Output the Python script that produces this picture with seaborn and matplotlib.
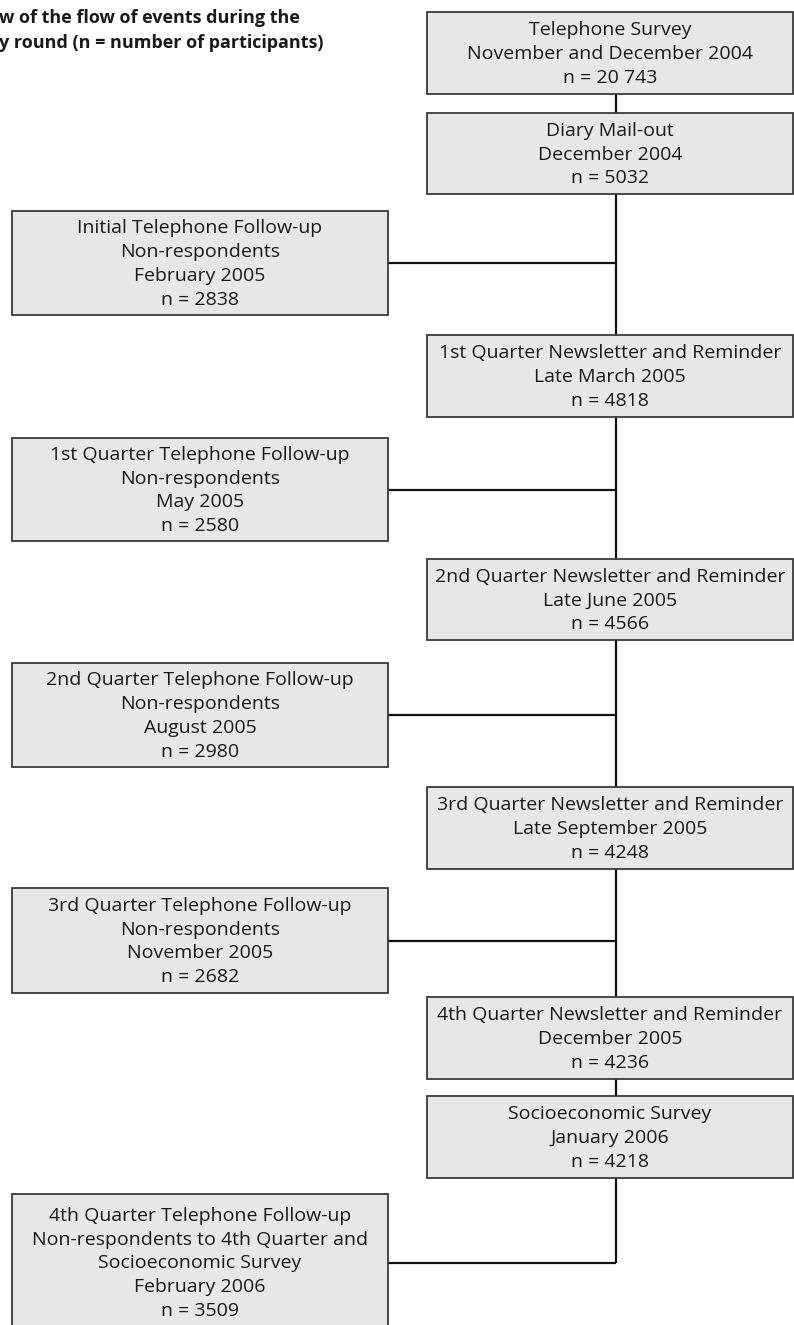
import matplotlib
matplotlib.use("Agg")
import matplotlib.pyplot as plt
from matplotlib.patches import Rectangle
import seaborn as sns

# ---- data ----
title_lines = ["w of the flow of events during the",
               "y round (n = number of participants)"]

main_steps = ["Telephone Survey", "Diary Mail-out",
              "1st Quarter Newsletter and Reminder",
              "2nd Quarter Newsletter and Reminder",
              "3rd Quarter Newsletter and Reminder",
              "4th Quarter Newsletter and Reminder",
              "Socioeconomic Survey"]
main_dates = ["November and December 2004", "December 2004", "Late March 2005",
              "Late June 2005", "Late September 2005", "December 2005", "January 2006"]
main_n = ["20 743", "5032", "4818", "4566", "4248", "4236", "4218"]

follow_steps = ["Initial Telephone Follow-up", "1st Quarter Telephone Follow-up",
                "2nd Quarter Telephone Follow-up", "3rd Quarter Telephone Follow-up",
                "4th Quarter Telephone Follow-up"]
follow_groups = ["Non-respondents", "Non-respondents", "Non-respondents", "Non-respondents",
                 "Non-respondents to 4th Quarter and\nSocioeconomic Survey"]
follow_dates = ["February 2005", "May 2005", "August 2005", "November 2005", "February 2006"]
follow_n = ["2838", "2580", "2980", "2682", "3509"]

# ---- layout (pixel units) ----
main_box = [(12, 94), (113, 194), (335, 417), (559, 640), (787, 869), (997, 1079), (1096, 1178)]
follow_box = [(211, 315), (438, 541), (663, 767), (888, 993), (1194, 1331)]
RX0, RX1 = 427, 793
LX0, LX1 = 12, 388
SPINE_X = 616

sns.set_theme(style="white")
plt.rcParams['font.family'] = ['Open Sans', 'DejaVu Sans']

fig = plt.figure(figsize=(7.94, 13.25), dpi=100)
ax = fig.add_axes([0, 0, 1, 1])
ax.set_xlim(0, 794)
ax.set_ylim(1325, 0)
ax.axis("off")

FILL = "#e6e7e8"
EDGE = "#3a3a3a"
FS = 14
LS = 1.42

# spine line
ax.plot([SPINE_X, SPINE_X], [main_box[0][1], (follow_box[-1][0] + follow_box[-1][1]) / 2],
        color="#111111", lw=1.6, zorder=1, solid_capstyle="butt")

def box(x0, x1, y0, y1, text):
    ax.add_patch(Rectangle((x0, y0), x1 - x0, y1 - y0, facecolor=FILL,
                           edgecolor=EDGE, lw=1.3, zorder=2))
    ax.text((x0 + x1) / 2, (y0 + y1) / 2 + 1, text, ha="center", va="center",
            fontsize=FS, linespacing=LS, color="#1a1a1a", zorder=3)

for (y0, y1), s, d, n in zip(main_box, main_steps, main_dates, main_n):
    box(RX0, RX1, y0, y1, f"{s}\n{d}\nn = {n}")

for (y0, y1), s, g, d, n in zip(follow_box, follow_steps, follow_groups, follow_dates, follow_n):
    box(LX0, LX1, y0, y1, f"{s}\n{g}\n{d}\nn = {n}")
    yc = (y0 + y1) / 2
    ax.plot([LX1, SPINE_X], [yc, yc], color="#111111", lw=1.6, zorder=1,
            solid_capstyle="butt")

ax.text(-1, 18, title_lines[0], ha="left", va="center", fontsize=13,
        fontweight="bold", color="#1a1a1a")
ax.text(-1, 43, title_lines[1], ha="left", va="center", fontsize=13,
        fontweight="bold", color="#1a1a1a")

fig.savefig("out.png", dpi=100)
